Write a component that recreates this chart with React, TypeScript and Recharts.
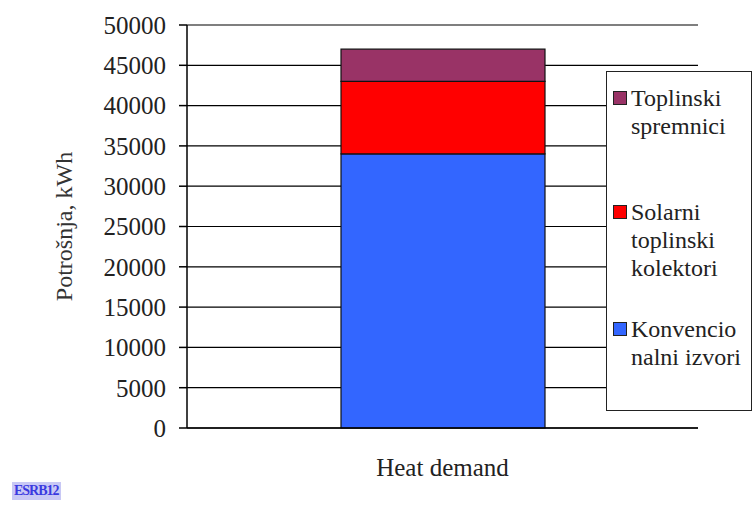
import React from 'react';
import { BarChart, Bar, XAxis, YAxis, CartesianGrid, Legend } from 'recharts';

const categories = ['Heat demand'];
const konvencionalni = [34000];
const solarni = [9000];
const spremnici = [4000];
const yTicks = [0, 5000, 10000, 15000, 20000, 25000, 30000, 35000, 40000, 45000, 50000];

const seriesNames = {
  konv: 'Konvencio nalni izvori',
  solar: 'Solarni toplinski kolektori',
  sprem: 'Toplinski spremnici',
};

const data = categories.map((c, i) => ({
  name: c,
  konv: konvencionalni[i],
  solar: solarni[i],
  sprem: spremnici[i],
}));

const FONT = "'Liberation Serif', 'Times New Roman', 'DejaVu Serif', serif";

const legendItems = [
  { color: '#993366', lines: ['Toplinski', 'spremnici'] },
  { color: '#FF0000', lines: ['Solarni', 'toplinski', 'kolektori'] },
  { color: '#3366FF', lines: ['Konvencio', 'nalni izvori'] },
];

const LegendBox = () => (
  <div
    style={{
      width: 146,
      height: 340,
      boxSizing: 'border-box',
      border: '1.5px solid #222',
      background: '#fff',
      fontFamily: FONT,
      fontSize: 24,
      color: '#222',
      position: 'relative',
      textAlign: 'left',
    }}
  >
    {legendItems.map((it, k) => (
      <div
        key={k}
        style={{ position: 'absolute', left: 6, top: [12, 126, 243][k], lineHeight: '28px' }}
      >
        {it.lines.map((ln, j) => (
          <div key={j} style={{ display: 'flex', alignItems: 'center', whiteSpace: 'nowrap' }}>
            <span
              style={{
                display: 'inline-block',
                width: 12,
                height: 12,
                marginRight: 4,
                background: j === 0 ? it.color : 'transparent',
                border: j === 0 ? '1px solid #222' : '1px solid transparent',
              }}
            />
            <span>{ln}</span>
          </div>
        ))}
      </div>
    ))}
  </div>
);

const YLabel = (props: any) => {
  const vb = props.viewBox || { y: 25, height: 403 };
  const cy = vb.y + vb.height / 2;
  return (
    <text
      x={64}
      y={cy}
      transform={`rotate(-90 64 ${cy})`}
      textAnchor="middle"
      dominantBaseline="central"
      fontFamily={FONT}
      fontSize={24}
      fill="#333"
    >
      Potrošnja, kWh
    </text>
  );
};

export default function App() {
  return (
    <div style={{ position: 'absolute', left: 0, top: 0, width: 756, height: 506, background: '#fff' }}>
      <BarChart
        width={756}
        height={506}
        data={data}
        margin={{ top: 25, right: 58, bottom: 48, left: 0 }}
      >
        <CartesianGrid vertical={false} stroke="#000" strokeWidth={1.2} />
        <XAxis
          xAxisId="edge"
          type="number"
          domain={[0, 1]}
          ticks={[0, 1]}
          tickFormatter={() => ''}
          axisLine={false}
          tickLine={{ stroke: '#000', strokeWidth: 1.5 }}
          tickSize={7}
          height={0}
        />
        <XAxis
          dataKey="name"
          xAxisId="cat"
          height={30}
          tickLine={false}
          axisLine={{ stroke: '#000', strokeWidth: 1.5 }}
          tickSize={0}
          tickMargin={30}
          tick={{ fontFamily: FONT, fontSize: 25, fill: '#222' }}
        />
        <YAxis
          width={187}
          domain={[0, 50000]}
          ticks={yTicks}
          interval={0}
          tickSize={8}
          tickMargin={13}
          axisLine={{ stroke: '#000', strokeWidth: 1.5 }}
          tickLine={{ stroke: '#000', strokeWidth: 1.5 }}
          tick={{ fontFamily: FONT, fontSize: 25, fill: '#222' }}
          label={<YLabel />}
        />
        <YAxis
          yAxisId="right"
          orientation="right"
          width={0}
          domain={[0, 50000]}
          tick={false}
          tickLine={false}
          axisLine={{ stroke: '#000', strokeWidth: 1.5 }}
        />
        <Legend
          content={<LegendBox />}
          layout="horizontal"
          verticalAlign="middle"
          align="center"
          wrapperStyle={{ position: 'absolute', left: 606, top: 71, width: 146, height: 340 }}
        />
        <Bar dataKey="konv" name={seriesNames.konv} stackId="a" xAxisId="cat" fill="#3366FF" stroke="#111" strokeWidth={1.2} barSize={204} isAnimationActive={false} />
        <Bar dataKey="solar" name={seriesNames.solar} stackId="a" xAxisId="cat" fill="#FF0000" stroke="#111" strokeWidth={1.2} barSize={204} isAnimationActive={false} />
        <Bar dataKey="sprem" name={seriesNames.sprem} stackId="a" xAxisId="cat" fill="#993366" stroke="#111" strokeWidth={1.2} barSize={204} isAnimationActive={false} />
      </BarChart>
      <div
        style={{
          position: 'absolute',
          left: 12,
          top: 482,
          fontFamily: FONT,
          fontSize: 14,
          fontWeight: 'bold',
          color: '#3a3ae0',
          background: '#c8c8f5',
          letterSpacing: -1,
          lineHeight: '18px',
          padding: '0 2px',
        }}
      >
        ESRB12
      </div>
    </div>
  );
}
